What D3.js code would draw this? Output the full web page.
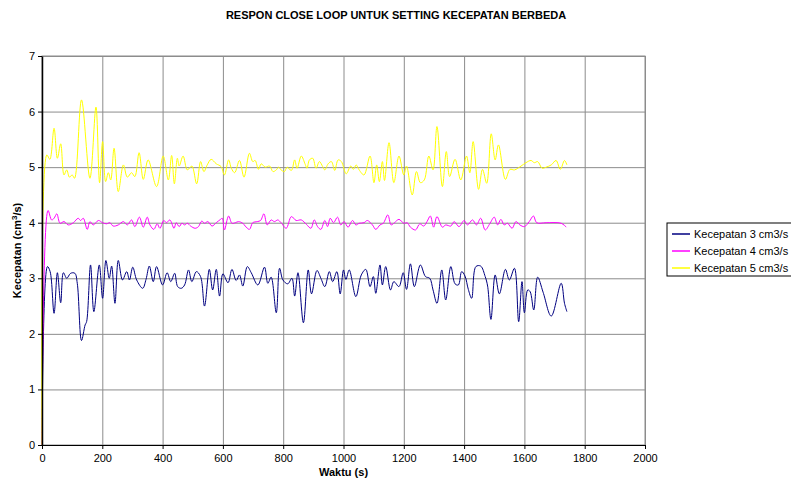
<html>
<head>
  <script src="https://d3js.org/d3.v7.min.js"></script>
  <style>
    body { margin: 0; background: #fff; }
    text { font-family: "Liberation Sans", Arial, sans-serif; fill: #000; }
    .grid line { stroke: #8c8c8c; stroke-width: 1px; }
    .grid .domain { display: none; }
    .axis text { font-size: 11px; }
    .axis line { stroke: #000; }
    .axis .domain { stroke: #000; }
  </style>
</head>
<body>
<svg id="chart" width="791" height="489"></svg>
<script>
  // DATA (time in s, speed in cm3/s)
  const xTicks = [0, 200, 400, 600, 800, 1000, 1200, 1400, 1600, 1800, 2000];
  const yTicks = [0, 1, 2, 3, 4, 5, 6, 7];
  const seriesNames = ["Kecepatan 3 cm3/s", "Kecepatan 4 cm3/s", "Kecepatan 5 cm3/s"];
  const seriesColors = ["#000080", "#ff00ff", "#ffff00"];

  const speed3 = [[0,0],[18,3.21],[27,3.12],[40,2.37],[51,3.10],[62,2.56],[71,3.10],[82,3.0],[95,3.09],[109,3.09],[117,2.91],[131,1.88],[143,2.16],[148,2.22],[161,3.24],[172,2.40],[190,3.24],[201,2.64],[212,3.32],[223,3.0],[231,3.22],[242,2.55],[253,3.32],[267,2.97],[281,3.12],[290,2.97],[301,3.20],[314,2.97],[334,2.82],[345,2.98],[356,3.22],[369,2.94],[380,3.21],[400,2.88],[415,3.10],[427,2.94],[440,3.09],[450,2.85],[462,2.82],[473,2.88],[486,3.15],[497,2.94],[512,3.12],[526,3.03],[539,2.50],[555,3.16],[566,2.79],[578,3.16],[589,2.68],[600,3.08],[617,2.92],[630,3.16],[644,2.96],[655,3.06],[666,2.86],[681,3.21],[694,3.10],[716,2.88],[738,3.20],[749,2.91],[760,3.02],[777,2.38],[788,3.18],[799,2.97],[815,2.90],[829,3.0],[838,2.68],[849,3.10],[867,2.20],[883,3.15],[894,2.72],[912,3.14],[925,3.0],[938,2.85],[953,3.12],[964,2.94],[978,3.12],[989,2.72],[1000,3.15],[1008,2.98],[1019,3.15],[1041,2.67],[1059,3.06],[1074,3.16],[1088,2.85],[1099,3.03],[1107,2.73],[1121,3.24],[1129,2.88],[1140,3.21],[1156,2.79],[1167,2.94],[1184,2.85],[1198,3.10],[1209,2.80],[1222,3.26],[1235,2.85],[1255,3.24],[1272,3.03],[1286,3.0],[1297,2.79],[1310,2.55],[1326,3.15],[1339,2.61],[1356,3.21],[1370,2.90],[1381,2.88],[1392,3.12],[1403,3.04],[1414,2.80],[1425,2.64],[1439,3.21],[1455,3.22],[1470,3.03],[1478,2.86],[1489,2.26],[1503,3.06],[1517,2.72],[1537,3.16],[1550,2.97],[1567,3.18],[1581,2.22],[1592,2.94],[1600,2.38],[1611,2.79],[1619,2.76],[1631,2.43],[1644,3.02],[1662,2.75],[1689,2.32],[1722,2.91],[1733,2.55],[1741,2.40]];

  const speed4 = [[0,0],[20,4.22],[32,4.05],[40,4.08],[49,4.16],[60,3.99],[73,4.02],[87,3.96],[104,4.0],[120,4.08],[128,4.04],[137,4.08],[150,3.88],[159,4.02],[170,3.96],[187,4.04],[201,4.0],[214,3.98],[225,4.0],[236,3.94],[253,3.96],[270,4.02],[283,3.96],[297,4.05],[308,3.93],[323,4.10],[336,3.92],[349,4.10],[358,3.96],[371,3.88],[382,3.98],[391,3.90],[404,4.04],[413,4.0],[424,4.05],[438,3.90],[445,4.0],[455,3.93],[464,3.99],[473,3.96],[482,3.99],[493,3.94],[508,3.90],[519,3.93],[530,4.03],[539,3.99],[550,4.02],[564,3.94],[578,4.0],[592,4.06],[598,4.08],[605,3.87],[619,4.12],[630,3.99],[641,4.0],[652,4.02],[666,3.99],[674,3.94],[688,3.88],[699,4.0],[714,4.02],[725,4.04],[736,4.16],[747,3.96],[760,4.05],[771,4.02],[782,4.05],[793,4.0],[810,3.90],[827,4.11],[843,4.04],[860,4.05],[877,3.97],[892,3.90],[903,4.05],[914,3.93],[925,3.88],[938,4.04],[947,3.93],[956,4.08],[967,4.0],[980,4.10],[991,3.96],[1002,4.02],[1015,3.92],[1030,4.04],[1041,3.96],[1052,3.99],[1068,4.0],[1079,4.04],[1096,3.96],[1107,3.88],[1121,3.96],[1132,3.99],[1147,4.14],[1158,3.96],[1169,4.0],[1184,4.06],[1200,3.99],[1211,4.0],[1222,3.92],[1239,3.87],[1253,3.98],[1266,3.94],[1277,4.02],[1288,4.12],[1299,3.92],[1310,4.11],[1328,3.92],[1339,3.96],[1356,3.94],[1367,4.02],[1383,3.93],[1400,4.04],[1411,3.96],[1428,4.05],[1441,3.96],[1455,4.08],[1470,3.87],[1485,3.98],[1500,4.10],[1511,3.96],[1522,4.06],[1533,3.96],[1544,3.99],[1559,3.90],[1572,4.02],[1585,3.96],[1600,3.93],[1616,4.02],[1630,4.12],[1641,4.0],[1672,4.0],[1722,3.99],[1739,3.92]];

  const speed5 = [[0,0],[16,5.22],[26,5.14],[40,5.70],[51,5.16],[62,5.42],[73,4.86],[82,4.95],[91,4.82],[100,4.86],[108,4.80],[131,6.21],[159,4.80],[179,6.08],[191,4.72],[201,5.46],[211,4.74],[220,4.90],[228,4.77],[239,5.34],[253,4.56],[270,5.04],[283,4.82],[297,4.90],[308,4.83],[322,5.26],[336,4.78],[352,5.13],[380,4.65],[402,5.20],[419,4.77],[430,5.21],[439,4.70],[449,5.16],[455,5.02],[468,5.20],[482,4.95],[497,5.02],[513,4.70],[526,5.10],[537,4.92],[548,5.04],[561,5.14],[578,5.06],[594,5.01],[605,4.86],[619,5.13],[628,4.98],[639,4.90],[655,5.12],[670,4.82],[688,5.25],[699,5.10],[707,5.12],[718,4.96],[727,5.06],[740,5.0],[755,5.02],[766,4.92],[777,4.95],[785,5.0],[793,4.95],[804,4.92],[813,5.0],[827,4.94],[838,5.13],[846,4.98],[860,5.20],[873,5.05],[879,4.98],[887,5.13],[898,5.16],[909,4.98],[920,5.10],[931,5.01],[938,4.95],[949,5.06],[960,5.10],[971,4.94],[982,5.13],[993,5.10],[1009,4.88],[1024,5.02],[1033,4.96],[1042,5.04],[1052,4.95],[1068,4.86],[1088,5.20],[1101,4.72],[1110,5.04],[1119,4.74],[1129,5.10],[1136,4.76],[1151,5.44],[1167,4.72],[1184,5.20],[1200,4.86],[1209,5.02],[1228,4.50],[1242,4.92],[1255,4.72],[1268,4.77],[1283,5.20],[1297,4.95],[1310,5.73],[1328,4.65],[1341,5.28],[1352,4.83],[1370,5.14],[1389,4.77],[1408,5.20],[1419,4.90],[1430,5.46],[1448,4.60],[1461,4.96],[1475,4.71],[1490,5.60],[1503,5.13],[1514,5.40],[1537,4.78],[1552,4.96],[1567,4.95],[1589,5.02],[1605,5.08],[1622,5.12],[1633,5.08],[1644,5.10],[1659,4.98],[1672,5.00],[1689,5.04],[1705,5.12],[1719,4.96],[1733,5.12],[1741,5.04]];

  const allSeries = [speed3, speed4, speed5];

  const svg = d3.select("#chart");
  const margin = { top: 56, right: 146, bottom: 44, left: 42 };
  const width = +svg.attr("width") - margin.left - margin.right;
  const height = +svg.attr("height") - margin.top - margin.bottom;

  const x = d3.scaleLinear().domain([0, 2000]).range([0, width]);
  const y = d3.scaleLinear().domain([0, 7]).range([height, 0]);

  // title
  svg.append("text")
    .attr("x", 396).attr("y", 19)
    .attr("text-anchor", "middle")
    .style("font-size", "11px").style("font-weight", "bold")
    .text("RESPON CLOSE LOOP UNTUK SETTING KECEPATAN BERBEDA");

  const g = svg.append("g")
    .attr("transform", `translate(${margin.left},${margin.top})`);

  // gridlines
  g.append("g").attr("class", "grid")
    .call(d3.axisLeft(y).tickValues(yTicks).tickSize(-width).tickFormat(""));
  g.append("g").attr("class", "grid")
    .call(d3.axisBottom(x).tickValues(xTicks).tickSize(height).tickFormat(""));

  // frame top / right
  g.append("rect")
    .attr("x", 0).attr("y", 0).attr("width", width).attr("height", height)
    .attr("fill", "none").attr("stroke", "#8c8c8c");

  // lines
  const line = d3.line()
    .x(d => x(d[0]))
    .y(d => y(d[1]))
    .curve(d3.curveCatmullRom.alpha(0.5));

  allSeries.forEach((s, i) => {
    g.append("path")
      .datum(s)
      .attr("fill", "none")
      .attr("stroke", seriesColors[i])
      .attr("stroke-width", 1)
      .attr("d", line);
  });

  // axes
  g.append("g").attr("class", "axis")
    .attr("transform", `translate(0,${height})`)
    .call(d3.axisBottom(x).tickValues(xTicks).tickFormat(d3.format("d"))
      .tickSize(4).tickSizeOuter(0).tickPadding(5))
    .select(".domain").attr("stroke", "#333");

  g.append("g").attr("class", "axis")
    .call(d3.axisLeft(y).tickValues(yTicks).tickFormat(d3.format("d"))
      .tickSize(4).tickSizeOuter(0).tickPadding(3))
    .select(".domain").attr("stroke-width", 1.5);

  // axis titles
  svg.append("text")
    .attr("x", margin.left + width / 2).attr("y", 476)
    .attr("text-anchor", "middle")
    .style("font-size", "11px").style("font-weight", "bold")
    .text("Waktu (s)");

  const yTitle = svg.append("text")
    .attr("transform", `translate(21,${margin.top + height / 2}) rotate(-90)`)
    .attr("text-anchor", "middle")
    .style("font-size", "11px").style("font-weight", "bold");
  yTitle.append("tspan").text("Kecepatan (cm");
  yTitle.append("tspan").attr("dy", -4).style("font-size", "8px").text("3");
  yTitle.append("tspan").attr("dy", 4).text("/s)");

  // legend
  const legend = svg.append("g").attr("transform", "translate(667,223)");
  legend.append("rect")
    .attr("x", 0).attr("y", 0).attr("width", 140).attr("height", 53)
    .attr("fill", "#fff").attr("stroke", "#000");

  seriesNames.forEach((name, i) => {
    const row = legend.append("g").attr("transform", `translate(0,${11 + i * 17})`);
    row.append("line")
      .attr("x1", 5).attr("x2", 23).attr("y1", 0).attr("y2", 0)
      .attr("stroke", seriesColors[i]).attr("stroke-width", 1.5);
    row.append("text")
      .attr("x", 27).attr("y", 4)
      .style("font-size", "11px")
      .text(name);
  });
</script>
</body>
</html>
